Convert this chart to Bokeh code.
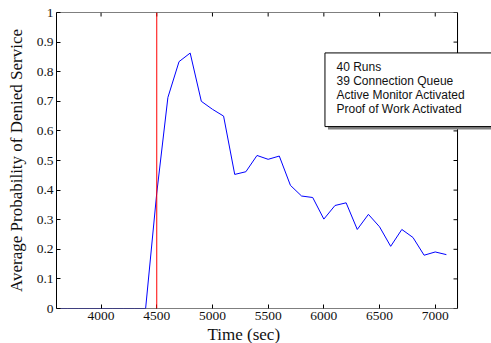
from bokeh.plotting import figure
from bokeh.models import Span, Label, FixedTicker, Range1d, Title, BoxAnnotation
from bokeh.embed import file_html
from bokeh.resources import INLINE

# ---- data ----
time_sec = [3600, 3700, 3800, 3900, 4000, 4100, 4200, 4300, 4400, 4500,
            4600, 4700, 4800, 4900, 5000, 5100, 5200, 5300, 5400, 5500,
            5600, 5700, 5800, 5900, 6000, 6100, 6200, 6300, 6400, 6500,
            6600, 6700, 6800, 6900, 7000, 7100]
p_denied = [0.0, 0.0, 0.0, 0.0, 0.0, 0.0, 0.0, 0.0, 0.0, 0.39,
            0.713, 0.834, 0.863, 0.70, 0.673, 0.65, 0.453, 0.462, 0.517, 0.504,
            0.515, 0.416, 0.38, 0.375, 0.302, 0.348, 0.357, 0.267, 0.318, 0.276,
            0.21, 0.267, 0.24, 0.18, 0.191, 0.182]
x_ticks = [4000, 4500, 5000, 5500, 6000, 6500, 7000]
y_ticks = [0, 0.1, 0.2, 0.3, 0.4, 0.5, 0.6, 0.7, 0.8, 0.9, 1]
y_tick_labels = ["0", "0.1", "0.2", "0.3", "0.4", "0.5", "0.6", "0.7", "0.8", "0.9", "1"]
x_axis_limits = (3600, 7200)
y_axis_limits = (0, 1)
activation_time = 4500
legend_lines = ["40 Runs", "39 Connection Queue", "Active Monitor Activated", "Proof of Work Activated"]
x_label = "Time (sec)"
y_label = "Average Probability of Denied Service"

# the frame extends past the right axis so the note box can run off the edge
x_view_end = 7505

TEXT = "#111111"
PI = 3.141592653589793

p = figure(width=491, height=343, x_range=Range1d(x_axis_limits[0], x_view_end),
           y_range=Range1d(*y_axis_limits),
           output_backend="svg", toolbar_location=None,
           min_border_left=56, min_border_right=0, min_border_top=12, min_border_bottom=0)
p.grid.visible = False
p.outline_line_color = None

xa = p.xaxis[0]
ya = p.yaxis[0]
xa.ticker = FixedTicker(ticks=x_ticks)
ya.ticker = FixedTicker(ticks=y_ticks)
ya.major_label_overrides = {t: l for t, l in zip(y_ticks, y_tick_labels)}
ya.axis_label = y_label

for ax in [xa, ya]:
    ax.major_tick_in = 4
    ax.major_tick_out = 0
    ax.minor_tick_line_color = None
    ax.axis_line_color = "black"
    ax.axis_line_width = 1
    ax.major_tick_line_color = "black"
    ax.major_label_text_font = "Liberation Serif"
    ax.major_label_text_color = TEXT
    ax.major_label_text_font_size = "13.5px"
    ax.major_label_standoff = 3
# the bottom edge is drawn by the axes box below, which stops at the right axis
xa.axis_line_color = None
ya.axis_label_text_font = "Liberation Serif"
ya.axis_label_text_font_style = "normal"
ya.axis_label_text_font_size = "17px"
ya.axis_label_text_color = TEXT
ya.axis_label_standoff = 8

p.add_layout(Title(text=x_label, align="left", offset=151, standoff=0,
                   text_font="Liberation Serif", text_font_style="normal",
                   text_font_size="17px", text_color=TEXT), "below")

# box round the axes, with inward ticks on the top and right sides
p.add_layout(BoxAnnotation(left=x_axis_limits[0], right=x_axis_limits[1],
                           bottom=y_axis_limits[0], top=y_axis_limits[1],
                           fill_color=None, fill_alpha=0, line_color="black", line_width=1,
                           line_alpha=1))
p.add_layout(Span(location=x_axis_limits[1], dimension="height",
                  line_color="black", line_width=1))
p.ray(x=[x_axis_limits[1]] * len(y_ticks), y=y_ticks, length=4, length_units="screen",
      angle=PI, line_color="black", line_width=1)
p.ray(x=x_ticks, y=[y_axis_limits[1]] * len(x_ticks), length=4, length_units="screen",
      angle=-PI / 2, line_color="black", line_width=1)

p.line(time_sec, p_denied, line_color="blue", line_width=1)
p.add_layout(Span(location=activation_time, dimension="height", line_color="red", line_width=1))

# note box (with drop shadow) that runs past the right edge
note_left, note_top, note_bottom = 6010, 0.8634, 0.6146
shadow_dx, shadow_dy = 27, 0.0102
p.add_layout(BoxAnnotation(left=note_left + shadow_dx, right=x_view_end + 500,
                           top=note_top - shadow_dy, bottom=note_bottom - shadow_dy,
                           fill_color="#808080", fill_alpha=1, line_color=None))
p.add_layout(BoxAnnotation(left=note_left, right=x_view_end + 500,
                           top=note_top, bottom=note_bottom,
                           fill_color="white", fill_alpha=1, line_color="black", line_width=1,
                           line_alpha=1))
p.add_layout(Label(x=280, y=249, x_units="screen", y_units="screen",
                   text="\n".join(legend_lines),
                   text_font="Liberation Sans", text_font_size="12px", text_color=TEXT,
                   text_line_height=1.0, text_align="left", text_baseline="top"))

open("out.html", "w").write(file_html(p, INLINE))
